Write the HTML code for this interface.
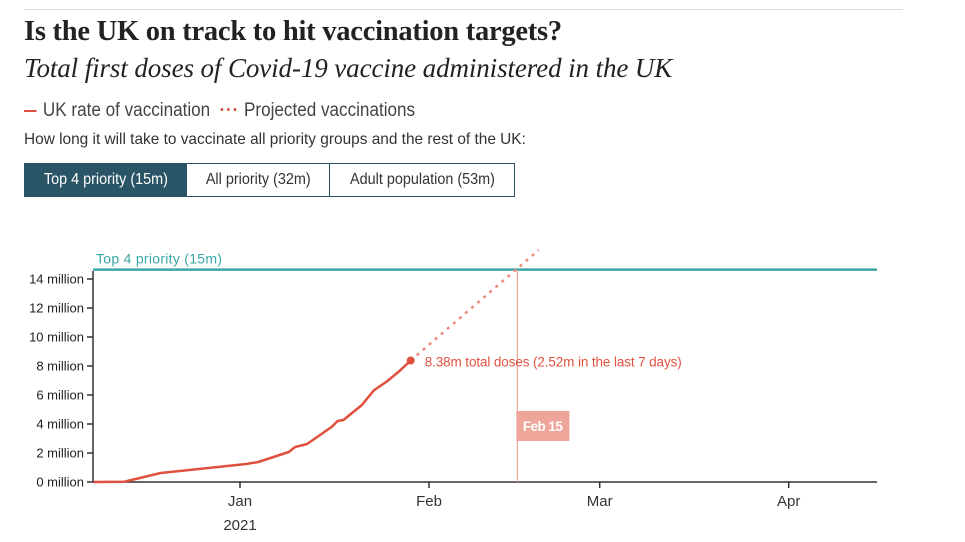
<!DOCTYPE html>
<html><head><meta charset="utf-8">
<style>
body{margin:0;background:#fff;width:965px;height:542px;overflow:hidden;position:relative;font-family:"Liberation Sans",sans-serif;color:#333}
.abs{position:absolute;white-space:nowrap}
.btn{position:absolute;top:163px;height:34px;box-sizing:border-box;border:1px solid #2a5566;font-size:16px;line-height:32px;text-align:center;color:#333;background:#fff}
.btn span{display:inline-block;transform:scaleX(0.9)}
</style></head><body>
<div class="abs" style="left:24px;top:9px;width:879px;height:1px;background:#ddd"></div>
<div class="abs" style="left:24px;top:16px;font-family:'Liberation Serif',serif;font-weight:bold;font-size:28.5px;color:#222;letter-spacing:-0.25px">Is the UK on track to hit vaccination targets?</div>
<div class="abs" style="left:24px;top:53px;font-family:'Liberation Serif',serif;font-style:italic;font-size:27px;color:#222;letter-spacing:-0.1px">Total first doses of Covid-19 vaccine administered in the UK</div>
<div class="abs" style="left:24px;top:100px;font-size:19px;color:#444;transform:scaleX(0.9);transform-origin:left">
<span style="display:inline-block;width:14px;height:2px;background:#e0503f;vertical-align:middle;margin-right:7px"></span><span>UK rate of vaccination</span>
<span style="color:#e0503f;font-weight:bold;margin-left:5px;letter-spacing:1px">···</span> <span>Projected vaccinations</span></div>
<div class="abs" style="left:24px;top:131px;font-size:16px;color:#333;transform:scaleX(0.963);transform-origin:left">How long it will take to vaccinate all priority groups and the rest of the UK:</div>
<div class="btn" style="left:24px;width:163px;background:#2a5566;color:#fff"><span>Top 4 priority (15m)</span></div>
<div class="btn" style="left:186px;width:144px"><span>All priority (32m)</span></div>
<div class="btn" style="left:329px;width:186px"><span>Adult population (53m)</span></div>
<svg id="chart" width="965" height="542" style="position:absolute;left:0;top:0" font-family="Liberation Sans, sans-serif"></svg>
<script>
const dates=["2020-12-08","2020-12-13","2020-12-19","2020-12-27","2021-01-02","2021-01-04","2021-01-09","2021-01-10","2021-01-12","2021-01-16","2021-01-17","2021-01-18","2021-01-21","2021-01-23","2021-01-25","2021-01-27","2021-01-29"];
const doses=[0,0.02,0.62,0.97,1.24,1.38,2.07,2.41,2.62,3.79,4.2,4.28,5.31,6.34,6.9,7.59,8.38];
const projDates=["2021-01-29","2021-02-19"];
const projDoses=[8.38,16.0];
const target=14.65;
const targetLabel="Top 4 priority (15m)";
const targetDate="2021-02-15T12:00:00Z";
const yTicks=[0,2,4,6,8,10,12,14];
const xTicks=["2021-01-01","2021-02-01","2021-03-01","2021-04-01"];
const xTickLabels=["Jan","Feb","Mar","Apr"];
const annotation="8.38m total doses (2.52m in the last 7 days)";

const svg=document.getElementById('chart');
const NS="http://www.w3.org/2000/svg";
const X0=93,X1=877,Y0=482;
const t0=Date.parse("2021-01-01"),day=86400000,pxDay=189/31;
const x=d=>240+(Date.parse(d)-t0)/day*pxDay;
const y=v=>Y0-v*14.5;
function el(tag,a,name){const e=document.createElementNS(NS,tag);for(const k in a)e.setAttribute(k,a[k]);


svg.appendChild(e);return e;}
function txt(s,a,name){const e=el('text',a,name);e.textContent=s;return e;}
el('line',{x1:X0,y1:271,x2:X0,y2:Y0,stroke:'#333','stroke-width':1.5},'y-axis');
el('line',{x1:X0,y1:Y0,x2:X1,y2:Y0,stroke:'#333','stroke-width':1.5},'x-axis');
yTicks.forEach(v=>{el('line',{x1:X0-6,y1:y(v),x2:X0,y2:y(v),stroke:'#333','stroke-width':1.5},'y-tick');
txt(v+' million',{x:X0-9,y:y(v)+4.5,'text-anchor':'end','font-size':13,fill:'#222'},'y-tick-label');});
xTicks.forEach((d,i)=>{el('line',{x1:x(d),y1:Y0,x2:x(d),y2:Y0+6,stroke:'#333','stroke-width':1.5},'x-tick');
txt(xTickLabels[i],{x:x(d),y:506,'text-anchor':'middle','font-size':15,fill:'#333'},'x-tick-label');});
txt('2021',{x:x(xTicks[0]),y:530,'text-anchor':'middle','font-size':15,fill:'#333'},'year-label');
el('line',{x1:X0,y1:y(target),x2:X1,y2:y(target),stroke:'#3aa6a6','stroke-width':2.5},'target-line');
txt(targetLabel,{x:X0+3,y:y(target)-6,'font-size':14,fill:'#3aa6a6',textLength:126},'target-label');
const tx=x(targetDate);
el('line',{x1:tx,y1:y(target),x2:tx,y2:Y0,stroke:'#eea59a','stroke-width':1.2},'target-date-line');
el('rect',{x:tx-1,y:411,width:53,height:30,fill:'#eea59a'},'target-date-box');
txt('Feb 15',{x:tx+25.5,y:431,'text-anchor':'middle','font-size':13.5,'font-weight':'bold',fill:'#fff',textLength:40},'target-date-label');
el('line',{x1:x(projDates[0]),y1:y(projDoses[0]),x2:x(projDates[1]),y2:y(projDoses[1]),stroke:'#ee8a7c','stroke-width':2.5,'stroke-dasharray':'3 5'},'projection-line');
el('path',{d:dates.map((d,i)=>(i?'L':'M')+x(d).toFixed(1)+','+y(doses[i]).toFixed(1)).join(''),fill:'none',stroke:'#e0503f','stroke-width':2.5,'stroke-linejoin':'round'},'vaccination-line');
const lx=x(dates[dates.length-1]),ly=y(doses[doses.length-1]);
el('circle',{cx:lx,cy:ly,r:4,fill:'#e0503f'},'latest-point');
txt(annotation,{x:lx+14,y:ly+6,'font-size':13.5,fill:'#e0503f',textLength:257},'latest-annotation');
</script>
</body></html>
